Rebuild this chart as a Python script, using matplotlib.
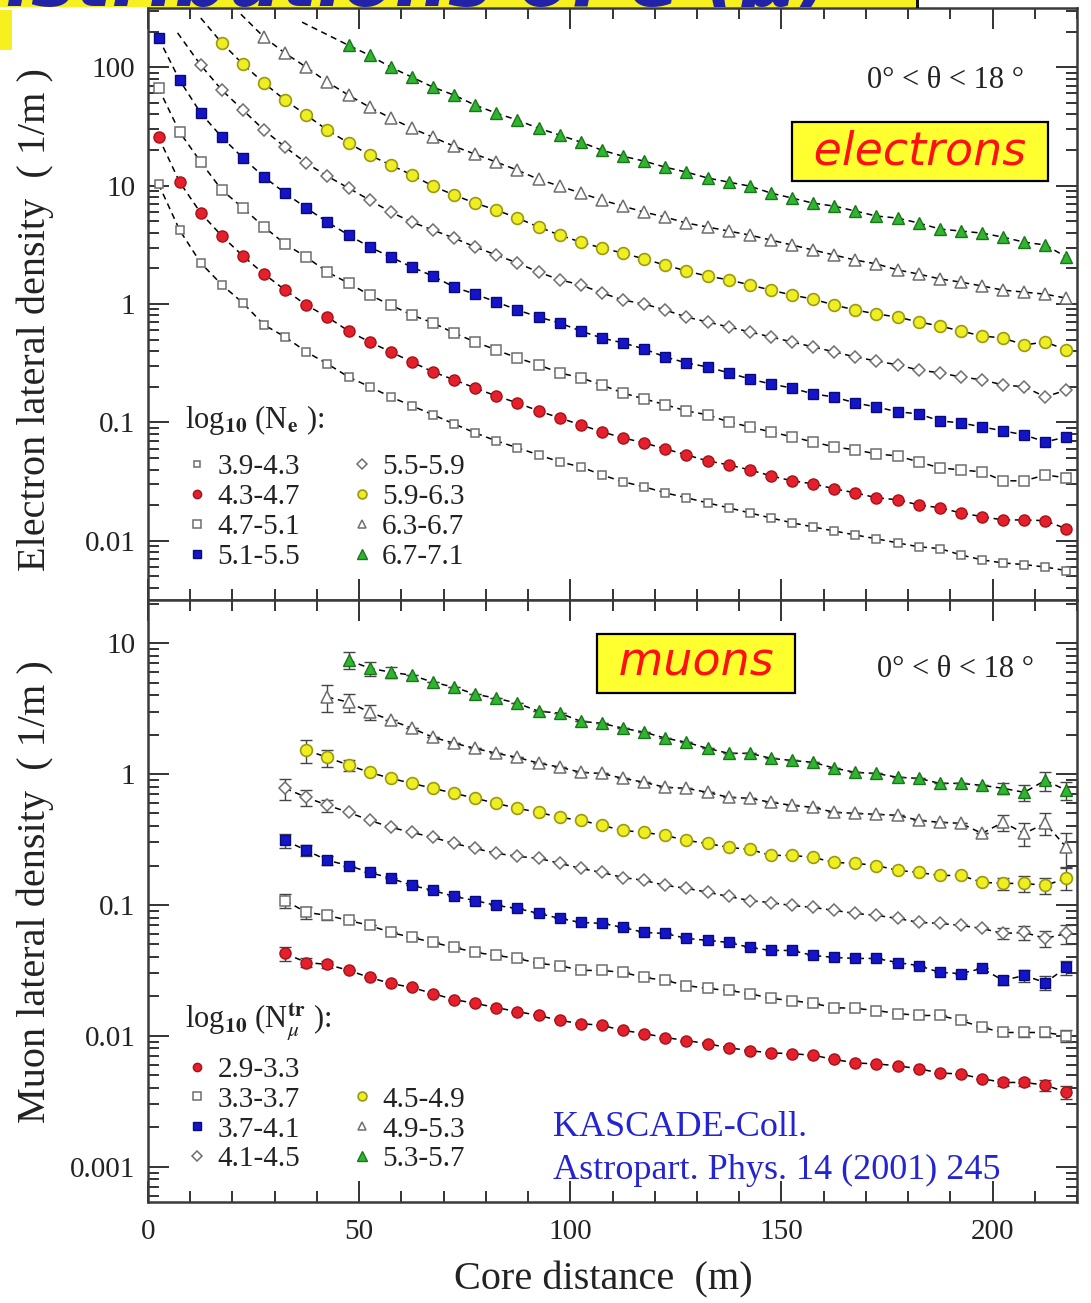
#!/usr/bin/env python3
"""
Lateral density distributions of electrons and muons vs. core distance,
binned in shower size (KASCADE, 0 < theta < 18 deg).

Output: out.png
"""

import numpy as np
import matplotlib
matplotlib.use("Agg")
import matplotlib.pyplot as plt
from matplotlib.lines import Line2D
from matplotlib.patches import Rectangle
from matplotlib.ticker import (FixedLocator, LogLocator, MultipleLocator,
                               NullFormatter, FuncFormatter)

plt.rcParams["font.family"] = ["Liberation Serif", "DejaVu Serif"]
plt.rcParams["mathtext.fontset"] = "stix"

# radial bin centres (m)
core_dist = [2.5, 7.5, 12.5, 17.5, 22.5, 27.5, 32.5, 37.5, 42.5, 47.5,
             52.5, 57.5, 62.5, 67.5, 72.5, 77.5, 82.5, 87.5, 92.5, 97.5,
             102.5, 107.5, 112.5, 117.5, 122.5, 127.5, 132.5, 137.5, 142.5, 147.5,
             152.5, 157.5, 162.5, 167.5, 172.5, 177.5, 182.5, 187.5, 192.5, 197.5,
             202.5, 207.5, 212.5, 217.5]

# ---- electrons: density (1/m^2) per log10(Ne) bin ----
e_labels = ["3.9-4.3", "4.3-4.7", "4.7-5.1", "5.1-5.5",
            "5.5-5.9", "5.9-6.3", "6.3-6.7", "6.7-7.1"]
e_first_bin = [0, 0, 0, 0, 2, 3, 5, 9]

e_39_43 = [10.3, 4.2, 2.22, 1.45, 1.02, 0.665, 0.527, 0.394, 0.312, 0.242,
           0.200, 0.164, 0.138, 0.116, 0.097, 0.0815, 0.0698, 0.061, 0.0532, 0.0464,
           0.0421, 0.036, 0.0315, 0.0286, 0.0254, 0.0231, 0.0209, 0.019, 0.0172, 0.0156,
           0.0142, 0.0131, 0.0121, 0.0112, 0.0104, 0.0096, 0.0089, 0.0086, 0.0076, 0.0069,
           0.0065, 0.0063, 0.006, 0.0056]
e_43_47 = [25.6, 10.7, 5.86, 3.75, 2.54, 1.79, 1.31, 0.98, 0.776, 0.591,
           0.478, 0.394, 0.324, 0.267, 0.229, 0.195, 0.167, 0.146, 0.125, 0.109,
           0.0953, 0.0832, 0.074, 0.0671, 0.0597, 0.0532, 0.0473, 0.0438, 0.0397, 0.0354,
           0.0321, 0.0303, 0.0275, 0.0254, 0.0231, 0.0222, 0.0201, 0.019, 0.0172, 0.016,
           0.015, 0.015, 0.0148, 0.0126]
e_47_51 = [66.5, 28.3, 15.8, 9.17, 6.46, 4.47, 3.21, 2.49, 1.86, 1.5,
           1.19, 0.98, 0.807, 0.692, 0.569, 0.478, 0.409, 0.35, 0.306, 0.262,
           0.238, 0.207, 0.177, 0.158, 0.141, 0.125, 0.116, 0.101, 0.0916, 0.0832,
           0.0755, 0.0684, 0.0621, 0.0586, 0.0542, 0.0521, 0.0464, 0.0413, 0.0397, 0.0382,
           0.0321, 0.0321, 0.036, 0.034]
e_51_55 = [176, 77.6, 40.9, 25.6, 17.1, 11.8, 8.65, 6.46, 4.92, 3.82,
           3.03, 2.49, 2.05, 1.72, 1.39, 1.21, 1.04, 0.89, 0.776, 0.692,
           0.591, 0.516, 0.469, 0.417, 0.357, 0.318, 0.294, 0.262, 0.233, 0.211,
           0.195, 0.174, 0.164, 0.146, 0.135, 0.123, 0.118, 0.103, 0.099, 0.0916,
           0.0848, 0.0785, 0.0684, 0.0755]
e_55_59 = [104, 64, 43.4, 29.4, 21.1, 15.5, 12.0, 9.53, 7.55, 5.97,
           4.92, 4.21, 3.6, 3.03, 2.59, 2.22, 1.86, 1.6, 1.45, 1.24,
           1.08, 1.0, 0.89, 0.776, 0.705, 0.64, 0.581, 0.527, 0.478, 0.434,
           0.394, 0.357, 0.33, 0.306, 0.277, 0.262, 0.242, 0.229, 0.207, 0.2,
           0.164, 0.188]
e_59_63 = [160, 106, 73.3, 52.7, 39.4, 29.4, 22.9, 18.1, 14.9, 12.3,
           9.9, 8.32, 7.11, 6.21, 5.32, 4.47, 3.82, 3.33, 2.97, 2.69,
           2.4, 2.13, 1.9, 1.72, 1.6, 1.45, 1.31, 1.19, 1.1, 0.98,
           0.89, 0.824, 0.776, 0.705, 0.652, 0.591, 0.537, 0.516, 0.451, 0.478,
           0.409]
e_63_67 = [179, 131, 100, 74.7, 58.1, 45.9, 37.2, 30.5, 25.6, 21.5,
           18.4, 15.8, 13.5, 11.3, 9.9, 8.65, 7.55, 6.71, 5.97, 5.42,
           4.83, 4.47, 4.13, 3.82, 3.47, 3.15, 2.86, 2.59, 2.35, 2.18,
           1.94, 1.79, 1.63, 1.53, 1.42, 1.31, 1.26, 1.21, 1.12]
e_67_71 = [153, 126, 100, 82.4, 67.8, 58.1, 47.8, 40.9, 35.7, 30.5,
           26.7, 23.3, 19.9, 17.7, 16.1, 14.3, 13.0, 11.6, 10.7, 9.9,
           8.65, 7.85, 7.11, 6.71, 6.1, 5.53, 5.32, 4.83, 4.3, 4.13,
           3.97, 3.67, 3.33, 3.15, 2.49]

# fitted curves continue inward of the first measured bin
e_fit_head_x = [None, None, None, None, 7.0, 12.5, 22.0, 36.5]
e_fit_head_y = [None, None, None, None, 195, 260, 280, 240]

# ---- muons (E > 2 GeV): density per log10(Nmu_tr) bin ----
mu_labels = ["2.9-3.3", "3.3-3.7", "3.7-4.1", "4.1-4.5",
             "4.5-4.9", "4.9-5.3", "5.3-5.7"]
mu_first_bin = [6, 6, 6, 6, 7, 8, 9]

mu_29_33 = [0.0426, 0.0363, 0.0351, 0.0316, 0.0279, 0.0251, 0.0234, 0.021, 0.0189, 0.0177,
            0.0164, 0.0153, 0.0143, 0.0131, 0.0124, 0.012, 0.011, 0.0104, 0.0097, 0.0092,
            0.0087, 0.0081, 0.0077, 0.0074, 0.0073, 0.0071, 0.0066, 0.0062, 0.0061, 0.0059,
            0.0056, 0.0052, 0.0051, 0.0047, 0.0044, 0.0044, 0.0042, 0.0037]
mu_33_37 = [0.108, 0.0877, 0.0832, 0.0761, 0.0697, 0.0616, 0.0564, 0.0517, 0.0473, 0.0434,
            0.0411, 0.039, 0.0357, 0.0344, 0.0316, 0.0316, 0.0305, 0.0279, 0.0265, 0.0242,
            0.023, 0.0222, 0.021, 0.0193, 0.0186, 0.0177, 0.0164, 0.0162, 0.0156, 0.0148,
            0.0143, 0.0143, 0.0131, 0.0116, 0.0106, 0.0106, 0.0106, 0.01]
mu_37_41 = [0.311, 0.261, 0.219, 0.2, 0.177, 0.16, 0.141, 0.129, 0.116, 0.108,
            0.099, 0.094, 0.0861, 0.0789, 0.0735, 0.0723, 0.0673, 0.0616, 0.0605, 0.0555,
            0.0536, 0.0517, 0.0473, 0.0449, 0.0449, 0.0411, 0.0397, 0.039, 0.039, 0.0363,
            0.0344, 0.0305, 0.0299, 0.0327, 0.0265, 0.0289, 0.0255, 0.0333]
mu_41_45 = [0.778, 0.664, 0.577, 0.51, 0.443, 0.392, 0.358, 0.328, 0.295, 0.27,
            0.248, 0.235, 0.227, 0.208, 0.19, 0.177, 0.162, 0.154, 0.141, 0.134,
            0.125, 0.116, 0.108, 0.104, 0.099, 0.0957, 0.0908, 0.0861, 0.0832, 0.0789,
            0.0735, 0.0723, 0.0697, 0.0661, 0.0605, 0.0616, 0.0555, 0.0605]
mu_45_49 = [1.52, 1.34, 1.17, 1.03, 0.927, 0.849, 0.778, 0.713, 0.653, 0.597,
            0.547, 0.51, 0.467, 0.443, 0.405, 0.371, 0.358, 0.34, 0.311, 0.295,
            0.275, 0.266, 0.239, 0.239, 0.231, 0.211, 0.208, 0.2, 0.184, 0.177,
            0.168, 0.168, 0.149, 0.146, 0.146, 0.141, 0.16]
mu_49_53 = [3.87, 3.54, 2.97, 2.58, 2.24, 1.91, 1.72, 1.57, 1.44, 1.34,
            1.21, 1.13, 1.03, 1.01, 0.927, 0.865, 0.792, 0.778, 0.725, 0.664,
            0.653, 0.608, 0.577, 0.557, 0.51, 0.501, 0.492, 0.484, 0.443, 0.428,
            0.42, 0.352, 0.428, 0.352, 0.42, 0.275]
mu_53_57 = [7.41, 6.44, 6.0, 5.69, 5.03, 4.61, 4.07, 3.8, 3.47, 3.02,
            2.92, 2.53, 2.44, 2.24, 2.09, 1.88, 1.75, 1.57, 1.44, 1.44,
            1.32, 1.27, 1.23, 1.11, 1.03, 1.01, 0.945, 0.927, 0.849, 0.849,
            0.82, 0.778, 0.725, 0.895, 0.751]

# statistical errors are only visible on the innermost / outermost bins
mu_err_head = [[0.005, 0.003, 0.002], [0.014, 0.009, 0.006], [0.04, 0.025, 0.018],
               [0.14, 0.09, 0.06], [0.3, 0.2, 0.12], [0.9, 0.55, 0.4], [1.1, 0.8, 0.6]]
mu_err_tail = [[0.0003, 0.0003, 0.0004, 0.0004], [0.0007, 0.0008, 0.0008, 0.001],
               [0.002, 0.003, 0.003, 0.004], [0.006, 0.008, 0.008, 0.01],
               [0.015, 0.02, 0.02, 0.03], [0.06, 0.07, 0.08, 0.08],
               [0.08, 0.1, 0.15, 0.12]]

GRAY = "#6e6e6e"
OPEN_SQ_SMALL = dict(marker="s", ms=6.0, mfc="white", mec=GRAY, mew=1.1)
OPEN_SQ = dict(marker="s", ms=7.5, mfc="white", mec=GRAY, mew=1.1)
OPEN_DIA = dict(marker="D", ms=6.5, mfc="white", mec=GRAY, mew=1.1)
OPEN_TRI = dict(marker="^", ms=8.5, mfc="white", mec=GRAY, mew=1.1)
RED = dict(marker="o", ms=8.0, mfc="#e3202c", mec="#a5121a", mew=1.0)
BLUE = dict(marker="s", ms=7.5, mfc="#1414c8", mec="#0a0a7a", mew=1.0)
YELLOW = dict(marker="o", ms=8.5, mfc="#eeee22", mec="#9a9a10", mew=1.2)
GREEN = dict(marker="^", ms=9.0, mfc="#2fb52f", mec="#1b761b", mew=1.0)

FIT_STYLE = dict(color="black", lw=1.1, ls=(0, (4, 3)), zorder=2)
TEXT_DARK = "#222222"
LABEL_BLUE = "#2424d0"


def style_axis(ax, ymin, ymax, majors):
    ax.set_yscale("log")
    ax.set_xlim(0, 220)
    ax.set_ylim(ymin, ymax)
    ax.yaxis.set_major_locator(FixedLocator(majors))
    ax.yaxis.set_major_formatter(FuncFormatter(lambda v, p: f"{v:g}"))
    ax.yaxis.set_minor_locator(LogLocator(base=10, subs=np.arange(2, 10) * 1.0, numticks=30))
    ax.yaxis.set_minor_formatter(NullFormatter())
    ax.xaxis.set_major_locator(MultipleLocator(50))
    ax.xaxis.set_minor_locator(MultipleLocator(10))
    ax.tick_params(which="both", direction="in", top=True, right=True,
                   width=1.4, color="#333333", labelsize=21, labelcolor=TEXT_DARK)
    ax.tick_params(which="major", length=15)
    ax.tick_params(which="minor", length=8)
    ax.tick_params(axis="y", pad=9)
    ax.tick_params(axis="x", pad=12)
    for sp in ax.spines.values():
        sp.set_linewidth(1.8)
        sp.set_color("#3a3a3a")


def legend_keys(styles):
    keys = []
    for st in styles:
        if st is None:
            keys.append(Line2D([], [], linestyle="none", marker=None))
        else:
            keys.append(Line2D([], [], linestyle="none", **st))
    return keys


def add_bin_legend(ax, title, title_y, keys, labels):
    # title drawn separately so the gap to the first row can be set freely
    ax.text(0.040, title_y, title, transform=ax.transAxes, ha="left",
            va="center", fontsize=22, color=TEXT_DARK)
    leg = ax.legend(keys, labels, loc="upper left", bbox_to_anchor=(0.0436, title_y - 0.057),
                    ncol=2, frameon=False, fontsize=21, markerscale=0.75,
                    handlelength=0.6, handletextpad=0.4, labelspacing=0.12,
                    columnspacing=1.8, borderpad=0, borderaxespad=0)
    for t in leg.get_texts():
        t.set_color(TEXT_DARK)
    return leg


def tag_box(ax, x, y, word):
    ax.text(x, y, " " + word + " ", transform=ax.transAxes,
            ha="center", va="center", fontsize=33, color="#ff1010",
            family="DejaVu Sans", style="italic",
            bbox=dict(boxstyle="square,pad=0.15", fc="#ffff30", ec="black", lw=1.6))


def draw_electrons(ax):
    series = [e_39_43, e_43_47, e_47_51, e_51_55, e_55_59, e_59_63, e_63_67, e_67_71]
    styles = [OPEN_SQ_SMALL, RED, OPEN_SQ, BLUE, OPEN_DIA, YELLOW, OPEN_TRI, GREEN]
    for i, (vals, st) in enumerate(zip(series, styles)):
        x = core_dist[e_first_bin[i]:]
        # dashed fit curve, running through the bins and a little further inward
        fx, fy = list(x), list(vals)
        if e_fit_head_x[i] is not None:
            fx = [e_fit_head_x[i]] + fx
            fy = [e_fit_head_y[i]] + fy
        ax.plot(fx, fy, **FIT_STYLE)
        ax.plot(x, vals, linestyle="none", zorder=3, **st)

    style_axis(ax, 10 ** -2.5, 10 ** 2.5, [0.01, 0.1, 1, 10, 100])
    ax.tick_params(axis="x", labelbottom=False)

    ax.text(0.858, 0.878, "0° < θ < 18 °", transform=ax.transAxes,
            ha="center", va="center", fontsize=22, color=TEXT_DARK)
    tag_box(ax, 0.831, 0.757, "electrons")

    add_bin_legend(ax, r"log$_{\mathbf{10}}$ (N$_{\mathbf{e}}$ ):", 0.304,
                   legend_keys(styles), e_labels)


def draw_muons(ax):
    series = [mu_29_33, mu_33_37, mu_37_41, mu_41_45, mu_45_49, mu_49_53, mu_53_57]
    styles = [RED, OPEN_SQ, BLUE, OPEN_DIA, YELLOW, OPEN_TRI, GREEN]
    for i, (vals, st) in enumerate(zip(series, styles)):
        x = core_dist[mu_first_bin[i]:]
        err = np.zeros(len(vals))
        err[:3] = mu_err_head[i]
        err[-4:] = mu_err_tail[i]
        ax.plot(x, vals, **FIT_STYLE)
        ax.errorbar(x, vals, yerr=err, fmt="none", ecolor="#444444",
                    elinewidth=1.0, capsize=4, capthick=1.0, zorder=2.5)
        ax.plot(x, vals, linestyle="none", zorder=3, **st)

    style_axis(ax, 10 ** -3.27, 10 ** 1.33, [0.001, 0.01, 0.1, 1, 10])

    ax.text(0.869, 0.884, "0° < θ < 18 °", transform=ax.transAxes,
            ha="center", va="center", fontsize=22, color=TEXT_DARK)
    tag_box(ax, 0.590, 0.895, "muons")
    ax.text(0.436, 0.123, "KASCADE-Coll.", transform=ax.transAxes,
            ha="left", va="center", fontsize=26, color=LABEL_BLUE)
    ax.text(0.436, 0.053, "Astropart. Phys. 14 (2001) 245", transform=ax.transAxes,
            ha="left", va="center", fontsize=26, color=LABEL_BLUE)

    # second legend column starts one row lower
    keys = legend_keys([RED, OPEN_SQ, BLUE, OPEN_DIA, None, YELLOW, OPEN_TRI, GREEN])
    labels = mu_labels[:4] + [""] + mu_labels[4:]
    add_bin_legend(ax, r"log$_{\mathbf{10}}$ (N$_{\mu}^{\mathbf{tr}}$ ):", 0.299,
                   keys, labels)


def main():
    W, H = 1091, 1303
    fig = plt.figure(figsize=(W / 100, H / 100), dpi=100)
    fig.patch.set_facecolor("white")

    # slide header strip above the plot
    banner = Rectangle((0, 1 - 7 / H), 918 / W, 7 / H, transform=fig.transFigure,
                       facecolor="#f6f020", edgecolor="none", zorder=0)
    fig.patches.append(banner)
    fig.patches.append(Rectangle((916 / W, 1 - 8 / H), 3 / W, 8 / H,
                                 transform=fig.transFigure, facecolor="#111111",
                                 edgecolor="none"))
    fig.patches.append(Rectangle((0, 1 - 50 / H), 12 / W, 40 / H,
                                 transform=fig.transFigure, facecolor="#f6f020",
                                 edgecolor="none"))
    head = fig.text(830 / W, 1 - 6 / H, "Lateral distributions of e (µ)",
                    ha="right", va="baseline", fontsize=54, color="#2222a8",
                    family="DejaVu Sans", weight="bold", style="italic")
    head.set_clip_path(banner)

    ax_e = fig.add_axes([148 / W, 1 - 600 / H, 929 / W, 592 / H])
    ax_m = fig.add_axes([148 / W, 1 - 1202 / H, 929 / W, 602 / H])

    draw_electrons(ax_e)
    draw_muons(ax_m)

    fig.text(35 / W, 1 - 320 / H, "Electron lateral density  ( 1/m )",
             rotation=90, ha="center", va="center", fontsize=29, color=TEXT_DARK)
    fig.text(35 / W, 1 - 892 / H, "Muon lateral density  ( 1/m )",
             rotation=90, ha="center", va="center", fontsize=29, color=TEXT_DARK)
    fig.text(603 / W, 1 - 1280 / H, "Core distance  (m)",
             ha="center", va="center", fontsize=29, color=TEXT_DARK)

    fig.savefig("out.png", dpi=100, facecolor="white")
    plt.close(fig)


if __name__ == "__main__":
    main()
